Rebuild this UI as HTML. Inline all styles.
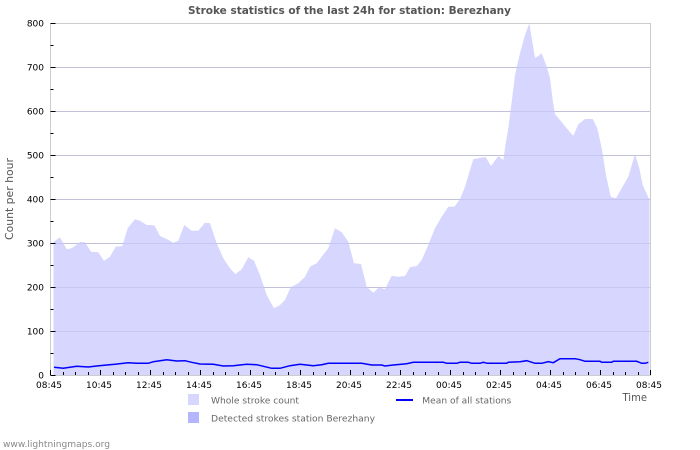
<!DOCTYPE html>
<html><head><meta charset="utf-8"><style>
html,body{margin:0;padding:0;background:#fff;}
svg{display:block;}
text{font-family:"DejaVu Sans","Liberation Sans",sans-serif;}
</style></head><body>
<svg width="700" height="450" viewBox="0 0 700 450" xmlns="http://www.w3.org/2000/svg">
<rect width="700" height="450" fill="#fff"/>
<!-- grid under -->
<g stroke="#cccccc" stroke-width="1">
<line x1="50.5" y1="23.5" x2="650.5" y2="23.5"/>
<line x1="50.5" y1="67.5" x2="650.5" y2="67.5"/>
<line x1="50.5" y1="111.5" x2="650.5" y2="111.5"/>
<line x1="50.5" y1="155.5" x2="650.5" y2="155.5"/>
<line x1="50.5" y1="199.5" x2="650.5" y2="199.5"/>
<line x1="50.5" y1="243.5" x2="650.5" y2="243.5"/>
<line x1="50.5" y1="287.5" x2="650.5" y2="287.5"/>
<line x1="50.5" y1="331.5" x2="650.5" y2="331.5"/>
</g>
<!-- area -->
<path fill="#d6d6ff" d="M53.5,375 L53.5,241.7 L60,237.3 L66.7,249.3 L71.7,248.3 L80,242 L85,242.3 L91,251.7 L98.3,252.3 L104,260.7 L110,256.7 L115.7,246.7 L122.3,246 L127.7,228.3 L135,219.3 L140,220.7 L146.7,225 L154.3,225.3 L160,236 L166.7,239 L173.3,242.7 L178.3,240.7 L184.3,225 L191.7,230.7 L198.3,230.7 L205,222.7 L210,223.3 L216.7,243.3 L223.3,258.3 L230,268.3 L235.3,274.3 L241.7,269.3 L248.3,257.3 L254,260.7 L260,275 L266.7,295 L274,308.3 L280,305 L285,300 L290.7,287.3 L298.3,283.3 L305,276.7 L310,266.7 L316.7,263.3 L321.7,256.7 L328.3,248.3 L335,228.3 L341.7,232.3 L348.3,241.7 L354,263.3 L361,264 L366.7,286.7 L373.3,292.7 L379,287.3 L385,289.3 L391.7,275.7 L398.3,276.7 L405,276 L410,267.3 L416.7,266 L421.7,260 L428.3,245 L435,228.3 L441.7,216.7 L448.3,206.7 L454.3,206.7 L460,199.3 L465,186.7 L470,170 L473.3,159.3 L483.3,157.3 L485.7,157.3 L491,166 L498.3,156 L503.3,160 L506,141.7 L508.3,128.3 L511.7,101.7 L515,75 L520,53.3 L525,35 L529.3,23.3 L531.7,38.3 L535,57.7 L537.3,56.7 L541.7,53.3 L546.7,66.7 L550,78.3 L552.7,100 L555,114.3 L560,120 L566.7,128.3 L573.3,135.7 L578.3,124.3 L585,119 L592.7,119 L597.3,128.3 L601.7,148.3 L606,175 L610.7,196.7 L616,198.3 L621.7,188.3 L628.3,176.7 L635,154.3 L639.3,168.3 L642.7,185 L648.7,198.3 L649.5,198.3 L649.5,375 Z"/>
<!-- grid over -->
<g stroke="#b8b8e8" stroke-width="1" opacity="0.5">
<line x1="50.5" y1="67.5" x2="650.5" y2="67.5"/>
<line x1="50.5" y1="111.5" x2="650.5" y2="111.5"/>
<line x1="50.5" y1="155.5" x2="650.5" y2="155.5"/>
<line x1="50.5" y1="199.5" x2="650.5" y2="199.5"/>
<line x1="50.5" y1="243.5" x2="650.5" y2="243.5"/>
<line x1="50.5" y1="287.5" x2="650.5" y2="287.5"/>
<line x1="50.5" y1="331.5" x2="650.5" y2="331.5"/>
</g>
<!-- frame -->
<rect x="50.5" y="23.5" width="600" height="352" fill="none" stroke="#cccccc" stroke-width="1"/>
<!-- mean line -->
<polyline fill="none" stroke="#0000ff" stroke-width="1.5" points="54,367.3 63.3,368.3 76.7,366.3 88.3,367 96.7,366 106.7,365 115,364.3 128.3,362.7 136.7,363.3 148.3,363.3 153.3,361.7 166.7,359.7 176.7,361 185,360.7 191.7,362.3 200,364 213.3,364.3 223.3,366 233.3,365.7 246.7,364.3 256.7,364.7 265,366.7 271.7,368.3 280,368.3 290,365.7 300,364.3 313.3,365.7 321.7,364.7 328.3,363.3 343.3,363.3 361.7,363.3 371.7,365 381.7,365 385,366 393.3,365 406.7,363.7 413.3,362.3 443.3,362.3 446.7,363.3 456.7,363.3 460,362.3 468.3,362.3 471.7,363.3 480,363.3 483.3,362.3 487.3,363.3 506.7,363.3 508.3,362.3 520,361.7 526.7,360.7 530,361.7 535,363.3 541.7,363.3 548.3,361.7 553.3,362.7 560,358.7 575,358.7 580,359.7 585,361.3 600,361.3 601.7,362.3 611.7,362.3 613.3,361.3 636.7,361.3 641.7,363.3 645,363.3 648.3,362.3"/>
<!-- ticks -->
<g stroke="#000" stroke-width="1">
<path d="M50.5,23.5h5M50.5,67.5h5M50.5,111.5h5M50.5,155.5h5M50.5,199.5h5M50.5,243.5h5M50.5,287.5h5M50.5,331.5h5M50.5,375.5h5"/>
<path d="M50.5,45.5h3M50.5,89.5h3M50.5,133.5h3M50.5,177.5h3M50.5,221.5h3M50.5,265.5h3M50.5,309.5h3M50.5,353.5h3"/>
<path d="M50.5,370v5M100.5,370v5M150.5,370v5M200.5,370v5M250.5,370v5M300.5,370v5M350.5,370v5M400.5,370v5M450.5,370v5M500.5,370v5M550.5,370v5M600.5,370v5M650.5,370v5"/>
<path d="M63.5,372v3M75.5,372v3M88.5,372v3M113.5,372v3M125.5,372v3M138.5,372v3M163.5,372v3M175.5,372v3M188.5,372v3M213.5,372v3M225.5,372v3M238.5,372v3M263.5,372v3M275.5,372v3M288.5,372v3M313.5,372v3M325.5,372v3M338.5,372v3M363.5,372v3M375.5,372v3M388.5,372v3M413.5,372v3M425.5,372v3M438.5,372v3M463.5,372v3M475.5,372v3M488.5,372v3M513.5,372v3M525.5,372v3M538.5,372v3M563.5,372v3M575.5,372v3M588.5,372v3M613.5,372v3M625.5,372v3M638.5,372v3"/>
</g>
<!-- y labels -->
<g font-size="9" fill="#000" text-anchor="end">
<text x="44" y="26.5">800</text>
<text x="44" y="70.5">700</text>
<text x="44" y="114.5">600</text>
<text x="44" y="158.5">500</text>
<text x="44" y="202.5">400</text>
<text x="44" y="246.5">300</text>
<text x="44" y="290.5">200</text>
<text x="44" y="334.5">100</text>
<text x="44" y="378.5">0</text>
</g>
<!-- x labels -->
<g font-size="9" fill="#000" text-anchor="middle">
<text x="49" y="388">08:45</text>
<text x="99" y="388">10:45</text>
<text x="149" y="388">12:45</text>
<text x="199" y="388">14:45</text>
<text x="249" y="388">16:45</text>
<text x="299" y="388">18:45</text>
<text x="349" y="388">20:45</text>
<text x="399" y="388">22:45</text>
<text x="449" y="388">00:45</text>
<text x="499" y="388">02:45</text>
<text x="549" y="388">04:45</text>
<text x="599" y="388">06:45</text>
<text x="649" y="388">08:45</text>
</g>
<!-- title -->
<text x="188" y="14" font-size="11" font-weight="bold" fill="#555" textLength="323" lengthAdjust="spacingAndGlyphs">Stroke statistics of the last 24h for station: Berezhany</text>
<!-- y axis title -->
<text transform="translate(13,199) rotate(-90)" font-size="11" fill="#555" text-anchor="middle" textLength="82" lengthAdjust="spacingAndGlyphs">Count per hour</text>
<!-- Time -->
<text x="622.5" y="401" font-size="11" fill="#555" textLength="24.5" lengthAdjust="spacingAndGlyphs">Time</text>
<!-- legend -->
<rect x="188" y="394" width="11" height="11" fill="#d6d6ff"/>
<rect x="188" y="412" width="11" height="11" fill="#b4b4ff"/>
<text x="211" y="403.5" font-size="9" fill="#666" textLength="88" lengthAdjust="spacingAndGlyphs">Whole stroke count</text>
<text x="211" y="421.5" font-size="9" fill="#666" textLength="164" lengthAdjust="spacingAndGlyphs">Detected strokes station Berezhany</text>
<line x1="396" y1="400" x2="413" y2="400" stroke="#0000ff" stroke-width="2"/>
<text x="422.3" y="403.5" font-size="9" fill="#666" textLength="89" lengthAdjust="spacingAndGlyphs">Mean of all stations</text>
<!-- footer -->
<text x="3" y="447" font-size="9" fill="#888" textLength="107" lengthAdjust="spacingAndGlyphs">www.lightningmaps.org</text>
</svg>
</body></html>
